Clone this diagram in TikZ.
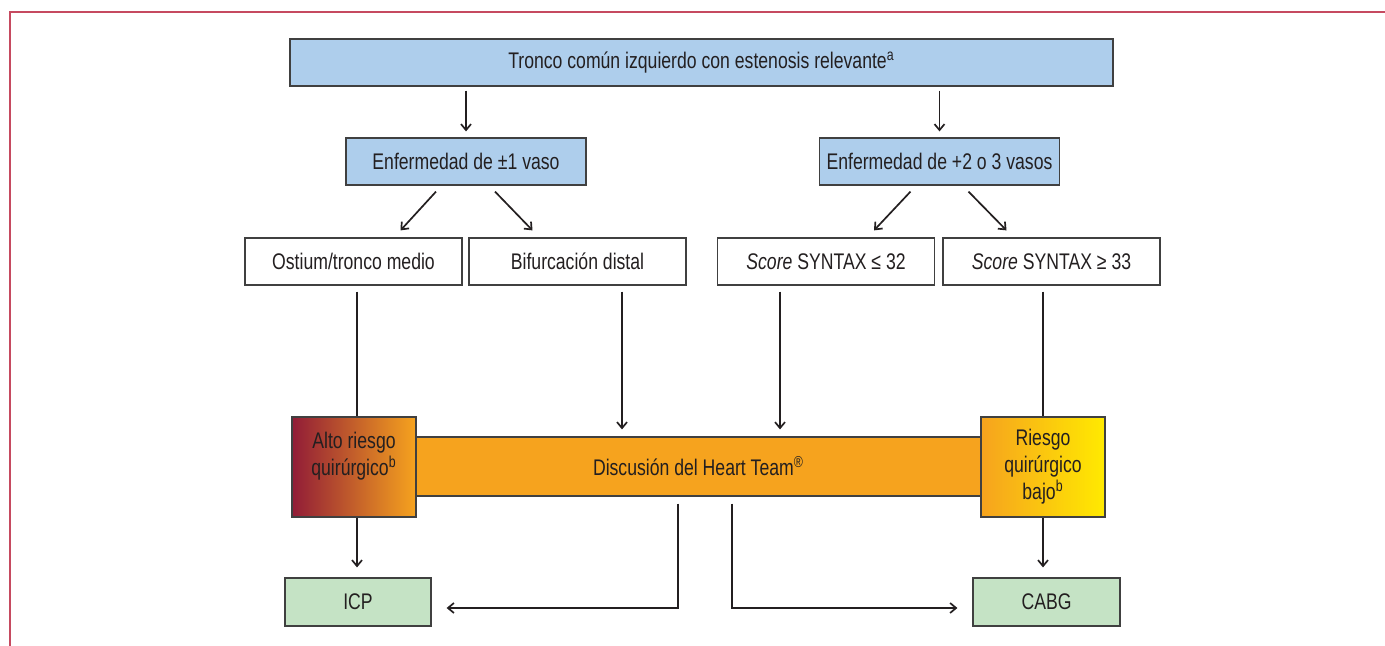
\documentclass[tikz,border=0pt]{standalone}
\usepackage{fontspec}
\setmainfont[FakeStretch=0.78]{Liberation Sans}
\usetikzlibrary{arrows.meta,calc}

\begin{document}
\begin{tikzpicture}[x=0.5pt, y=-0.5pt,
    every node/.style={font=\fontsize{11.3}{13.5}\selectfont, text=textgray},
    box/.style={draw=boxgray, line width=0.6pt, minimum height=23.5pt, inner sep=0pt, align=center},
    bluebox/.style={box, fill=boxblue, minimum width=120pt},
    whitebox/.style={box, fill=white, minimum width=108.5pt},
    greenbox/.style={box, fill=boxgreen, minimum height=24pt},
    riskbox/.style={box, minimum width=62pt, minimum height=50pt},
    link/.style={line width=0.85pt, draw=linegray},
    arrow/.style={link, -{Straight Barb[length=3pt,width=5pt]}}
]
\definecolor{textgray}{RGB}{35,31,32}
\definecolor{linegray}{RGB}{35,31,32}
\definecolor{boxgray}{RGB}{64,64,64}
\definecolor{boxblue}{RGB}{174,206,236}   % Light blue
\definecolor{boxgreen}{RGB}{197,227,197}  % Light green
\definecolor{heartorange}{RGB}{246,163,30}
\definecolor{altored}{RGB}{145,28,55}
\definecolor{bajoyellow}{RGB}{255,234,0}
\definecolor{framered}{RGB}{198,74,96}

\useasboundingbox (0,0) rectangle (1385,646);
\draw[framered, line width=1pt] (10,646) -- (10,12) -- (1385,12);

% Top and vessel boxes
\node[bluebox, minimum width=411.5pt] (tronco) at (701.5,62.5) {Tronco común izquierdo con estenosis relevante\textsuperscript{a}};
\node[bluebox] (unvaso) at (466,161.5) {Enfermedad de ±1 vaso};
\node[bluebox] (multivaso) at (939.5,161.5) {Enfermedad de +2 o 3 vasos};

\node[whitebox] (ostium) at (353.5,261.5) {Ostium/tronco medio};
\node[whitebox] (bifurc) at (577.5,261.5) {Bifurcación distal};
\node[whitebox] (synbajo) at (826,261.5) {\textit{Score} SYNTAX ≤ 32};
\node[whitebox] (synalto) at (1051.5,261.5) {\textit{Score} SYNTAX ≥ 33};

% Heart Team and risk boxes
\node[box, fill=heartorange, minimum width=282.5pt, minimum height=29.5pt] (heart) at (698.5,466.5) {Discusión del Heart Team\textsuperscript{®}};
\node[riskbox, left color=altored, right color=heartorange] (altoriesgo) at (354,467) {Alto riesgo\\quirúrgico\textsuperscript{b}\\\mbox{}};
\node[riskbox, left color=heartorange, right color=bajoyellow] (bajoriesgo) at (1043,467) {Riesgo\\quirúrgico\\bajo\textsuperscript{b}};

\node[greenbox, minimum width=73pt] (icp) at (358,602) {ICP};
\node[greenbox, minimum width=73.5pt] (cabg) at (1046.5,602) {CABG};

% Connectors
\draw[arrow, shorten <=2pt, shorten >=3pt] (tronco.south -| unvaso.north) -- (unvaso.north);
\draw[arrow, shorten <=2pt, shorten >=3pt] (tronco.south -| multivaso.north) -- (multivaso.north);

\draw[arrow] ($(unvaso.south)+(-30,6)$) -- ($(ostium.north)+(47,-7)$);
\draw[arrow] ($(unvaso.south)+(29,6)$) -- ($(bifurc.north)+(-45,-7)$);
\draw[arrow] ($(multivaso.south)+(-29,6)$) -- ($(synbajo.north)+(48,-7)$);
\draw[arrow] ($(multivaso.south)+(29,6)$) -- ($(synalto.north)+(-45,-7)$);

\coordinate (ostbase) at ($(ostium.south)+(3.5,0)$);
\coordinate (bifbase) at ($(bifurc.south)+(44.5,0)$);
\coordinate (synbase) at ($(synbajo.south)+(-46,0)$);
\draw[link, shorten <=3pt] (ostbase) -- (ostbase |- altoriesgo.north);
\draw[arrow, shorten <=3pt, shorten >=3.5pt] (bifbase) -- (bifbase |- heart.north);
\draw[arrow, shorten <=3pt, shorten >=3.5pt] (synbase) -- (synbase |- heart.north);
\draw[link, shorten <=3pt] (synalto.south -| bajoriesgo.north) -- (bajoriesgo.north);

\draw[arrow, shorten >=5pt] (ostbase |- altoriesgo.south) -- (ostbase |- icp.north);
\draw[arrow, shorten >=5pt] (bajoriesgo.south) -- (bajoriesgo.south |- cabg.north);

\coordinate (hleft) at ($(heart.south)+(-20.5,7)$);
\coordinate (hright) at ($(heart.south)+(33.5,7)$);
\draw[arrow] (hleft) |- ($(icp.east)+(15,6)$);
\draw[arrow] (hright) |- ($(cabg.west)+(-15,6)$);

\end{tikzpicture}
\end{document}
